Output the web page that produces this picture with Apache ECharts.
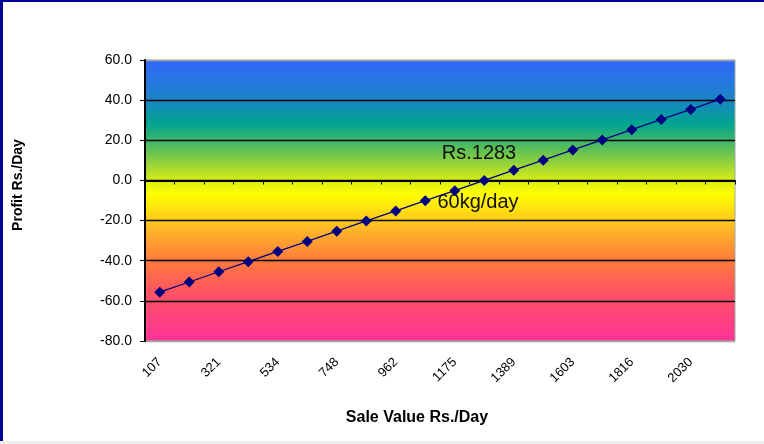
<!DOCTYPE html>
<html>
<head>
<meta charset="utf-8">
<script src="https://cdn.jsdelivr.net/npm/echarts@6/dist/echarts.min.js"></script>
<style>
html,body{margin:0;padding:0;background:#fff;}
#c{width:764px;height:444px;}
</style>
</head>
<body>
<div id="c"></div>
<script>
var categories = ['107','214','321','428','534','641','748','855','962','1069','1175','1282','1389','1496','1603','1710','1816','1923','2030','2137'];
var profit = [-55.7,-50.6,-45.5,-40.5,-35.4,-30.4,-25.3,-20.2,-15.2,-10.1,-5.1,0.0,5.1,10.1,15.2,20.2,25.3,30.4,35.4,40.5];
var yTicks = {min:-80, max:60, interval:20};
var xTitle = 'Sale Value Rs./Day';
var yTitle = 'Profit Rs./Day';
var note1 = 'Rs.1283';
var note2 = '60kg/day';

var chart = echarts.init(document.getElementById('c'), null, {renderer:'canvas'});
var font = 'Liberation Sans, Arial, sans-serif';
var bg = new echarts.graphic.LinearGradient(0,0,0,1,[
  {offset:0, color:'#3366ff'},
  {offset:0.143, color:'#1a85c5'},
  {offset:0.229, color:'#00a58f'},
  {offset:0.321, color:'#60c055'},
  {offset:0.429, color:'#d8ec18'},
  {offset:0.479, color:'#ffff00'},
  {offset:0.607, color:'#ffb428'},
  {offset:0.714, color:'#ff7a3c'},
  {offset:0.821, color:'#ff5560'},
  {offset:1, color:'#ff3399'}
]);
chart.setOption({
  animation:false,
  backgroundColor:'#ffffff',
  grid:{left:145, right:29, top:60, bottom:103, show:true, backgroundColor:bg, borderColor:'#a0a8a0', borderWidth:1},
  xAxis:[{
    type:'category', data:categories, boundaryGap:true,
    axisLine:{show:true, onZero:true, lineStyle:{color:'#000', width:2}},
    axisTick:{show:true, interval:0, length:4, lineStyle:{color:'#000', width:1}},
    axisLabel:{show:false}, splitLine:{show:false}
  },{
    type:'category', data:categories, boundaryGap:true, position:'bottom',
    axisLine:{show:false, onZero:false}, axisTick:{show:false},
    axisLabel:{show:true, interval:1, rotate:45, margin:19, color:'#000', fontFamily:font, fontSize:13},
    splitLine:{show:false}
  }],
  yAxis:{
    type:'value', min:yTicks.min, max:yTicks.max, interval:yTicks.interval,
    axisLine:{show:true, onZero:false, lineStyle:{color:'#000', width:2}},
    axisTick:{show:true, length:5, lineStyle:{color:'#000'}},
    axisLabel:{color:'#000', fontFamily:font, fontSize:14, margin:13, formatter:function(v){return v.toFixed(1);}},
    splitLine:{show:true, lineStyle:{color:['#a0a8a0','#000','#000','#000','#000','#000','#000','#a0a8a0'], width:1.3}}
  },
  series:[{
    type:'line', data:profit, xAxisIndex:0,
    symbol:'diamond', symbolSize:11,
    lineStyle:{color:'#000080', width:1.3},
    itemStyle:{color:'#000080'}
  }],
  graphic:[
    {type:'rect', left:0, top:0, shape:{width:3, height:444}, style:{fill:'#000099'}},
    {type:'rect', left:0, top:0, shape:{width:764, height:2}, style:{fill:'#000099'}},
    {type:'rect', left:0, top:441, shape:{width:764, height:3}, style:{fill:'#eeeeee'}},
    {type:'text', x:18, y:185, rotation:Math.PI/2, style:{text:yTitle, font:'bold 14px '+font, fill:'#000', align:'center', verticalAlign:'middle'}},
    {type:'text', x:417, y:418, style:{text:xTitle, font:'bold 16px '+font, fill:'#000', align:'center', verticalAlign:'middle'}},
    {type:'text', x:479, y:153, style:{text:note1, font:'20px '+font, fill:'#111', align:'center', verticalAlign:'middle'}},
    {type:'text', x:478, y:202, style:{text:note2, font:'20px '+font, fill:'#111', align:'center', verticalAlign:'middle'}}
  ]
});
</script>
</body>
</html>
